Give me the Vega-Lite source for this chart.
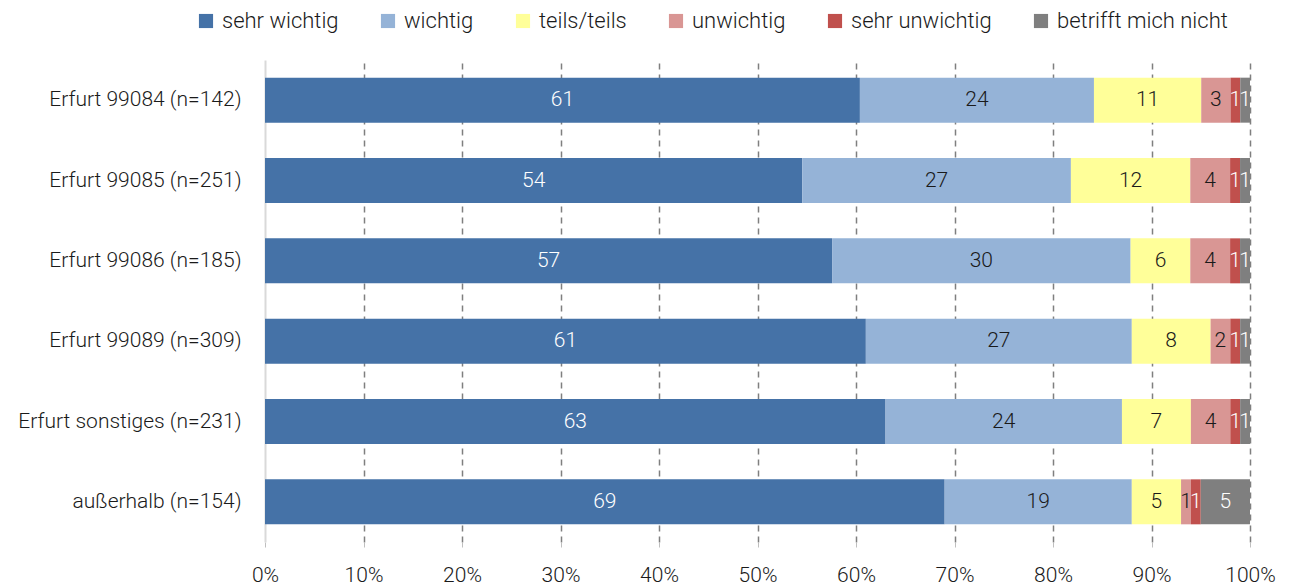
{
  "$schema": "https://vega.github.io/schema/vega-lite/v6.json",
  "autosize": {"type": "none"},
  "width": 985,
  "height": 482,
  "padding": {"left": 265, "top": 60, "right": 41, "bottom": 46},
  "background": "white",
  "config": {
    "font": "Roboto",
    "view": {"stroke": null},
    "axis": {"labelFontWeight": 300},
    "legend": {"labelFontWeight": 300}
  },
  "data": {
    "values": [
      {"loc": "Erfurt 99084 (n=142)", "cat": "sehr wichtig", "k": 1, "value": 61},
      {"loc": "Erfurt 99084 (n=142)", "cat": "wichtig", "k": 2, "value": 24},
      {"loc": "Erfurt 99084 (n=142)", "cat": "teils/teils", "k": 3, "value": 11},
      {"loc": "Erfurt 99084 (n=142)", "cat": "unwichtig", "k": 4, "value": 3},
      {"loc": "Erfurt 99084 (n=142)", "cat": "sehr unwichtig", "k": 5, "value": 1},
      {"loc": "Erfurt 99084 (n=142)", "cat": "betrifft mich nicht", "k": 6, "value": 1},
      {"loc": "Erfurt 99085 (n=251)", "cat": "sehr wichtig", "k": 1, "value": 54},
      {"loc": "Erfurt 99085 (n=251)", "cat": "wichtig", "k": 2, "value": 27},
      {"loc": "Erfurt 99085 (n=251)", "cat": "teils/teils", "k": 3, "value": 12},
      {"loc": "Erfurt 99085 (n=251)", "cat": "unwichtig", "k": 4, "value": 4},
      {"loc": "Erfurt 99085 (n=251)", "cat": "sehr unwichtig", "k": 5, "value": 1},
      {"loc": "Erfurt 99085 (n=251)", "cat": "betrifft mich nicht", "k": 6, "value": 1},
      {"loc": "Erfurt 99086 (n=185)", "cat": "sehr wichtig", "k": 1, "value": 57},
      {"loc": "Erfurt 99086 (n=185)", "cat": "wichtig", "k": 2, "value": 30},
      {"loc": "Erfurt 99086 (n=185)", "cat": "teils/teils", "k": 3, "value": 6},
      {"loc": "Erfurt 99086 (n=185)", "cat": "unwichtig", "k": 4, "value": 4},
      {"loc": "Erfurt 99086 (n=185)", "cat": "sehr unwichtig", "k": 5, "value": 1},
      {"loc": "Erfurt 99086 (n=185)", "cat": "betrifft mich nicht", "k": 6, "value": 1},
      {"loc": "Erfurt 99089 (n=309)", "cat": "sehr wichtig", "k": 1, "value": 61},
      {"loc": "Erfurt 99089 (n=309)", "cat": "wichtig", "k": 2, "value": 27},
      {"loc": "Erfurt 99089 (n=309)", "cat": "teils/teils", "k": 3, "value": 8},
      {"loc": "Erfurt 99089 (n=309)", "cat": "unwichtig", "k": 4, "value": 2},
      {"loc": "Erfurt 99089 (n=309)", "cat": "sehr unwichtig", "k": 5, "value": 1},
      {"loc": "Erfurt 99089 (n=309)", "cat": "betrifft mich nicht", "k": 6, "value": 1},
      {"loc": "Erfurt sonstiges (n=231)", "cat": "sehr wichtig", "k": 1, "value": 63},
      {"loc": "Erfurt sonstiges (n=231)", "cat": "wichtig", "k": 2, "value": 24},
      {"loc": "Erfurt sonstiges (n=231)", "cat": "teils/teils", "k": 3, "value": 7},
      {"loc": "Erfurt sonstiges (n=231)", "cat": "unwichtig", "k": 4, "value": 4},
      {"loc": "Erfurt sonstiges (n=231)", "cat": "sehr unwichtig", "k": 5, "value": 1},
      {"loc": "Erfurt sonstiges (n=231)", "cat": "betrifft mich nicht", "k": 6, "value": 1},
      {"loc": "außerhalb (n=154)", "cat": "sehr wichtig", "k": 1, "value": 69},
      {"loc": "außerhalb (n=154)", "cat": "wichtig", "k": 2, "value": 19},
      {"loc": "außerhalb (n=154)", "cat": "teils/teils", "k": 3, "value": 5},
      {"loc": "außerhalb (n=154)", "cat": "unwichtig", "k": 4, "value": 1},
      {"loc": "außerhalb (n=154)", "cat": "sehr unwichtig", "k": 5, "value": 1},
      {"loc": "außerhalb (n=154)", "cat": "betrifft mich nicht", "k": 6, "value": 5}
    ]
  },
  "transform": [
    {"stack": "value", "groupby": ["loc"], "sort": [{"field": "k", "order": "ascending"}], "offset": "normalize", "as": ["v0", "v1"]}
  ],
  "encoding": {
    "y": {
      "field": "loc", "type": "nominal", "sort": null, "title": null,
      "scale": {"paddingInner": 0.44, "paddingOuter": 0.22},
      "axis": {"labelFontSize": 21, "labelColor": "#1a1a1a", "labelPadding": 24, "ticks": false, "domainColor": "#d9d9d9", "domainWidth": 2, "labelLimit": 400}
    }
  },
  "layer": [
    {
      "mark": {"type": "bar"},
      "encoding": {
        "x": {
          "field": "v0", "type": "quantitative", "title": null,
          "scale": {"domain": [0, 1], "nice": false},
          "axis": {"format": "%", "values": [0, 0.1, 0.2, 0.3, 0.4, 0.5, 0.6, 0.7, 0.8, 0.9, 1], "labelFontSize": 21, "labelColor": "#1a1a1a", "labelPadding": 17, "labelOverlap": false, "domain": false, "tickColor": "#bfbfbf", "tickSize": 5, "grid": true, "gridDash": [6, 5], "gridWidth": 1.5, "gridColor": {"condition": {"test": "datum.value === 0", "value": "transparent"}, "value": "#7f7f7f"}, "labelFlush": false}
        },
        "x2": {"field": "v1"},
        "color": {
          "field": "cat", "type": "nominal", "title": null,
          "scale": {
            "domain": ["sehr wichtig", "wichtig", "teils/teils", "unwichtig", "sehr unwichtig", "betrifft mich nicht"],
            "range": ["#4572a7", "#95b3d7", "#ffff99", "#d99694", "#c0504d", "#7f7f7f"]
          },
          "legend": {"orient": "none", "direction": "horizontal", "legendX": -70, "legendY": -50, "symbolType": "square", "symbolSize": 200, "symbolStrokeWidth": 0, "labelFontSize": 22, "labelColor": "#1a1a1a", "labelOffset": 5, "columnPadding": 38, "labelLimit": 300}
        }
      }
    },
    {
      "transform": [
        {"fold": ["v0", "v1"], "as": ["end", "pos"]},
        {"aggregate": [{"op": "mean", "field": "pos", "as": "mid"}], "groupby": ["loc", "cat", "value"]}
      ],
      "mark": {"type": "text", "fontSize": 21, "fontWeight": 300, "align": "center", "baseline": "middle"},
      "encoding": {
        "x": {"field": "mid", "type": "quantitative", "title": null},
        "text": {"field": "value", "type": "quantitative"},
        "color": {"condition": {"test": "datum.cat === 'sehr wichtig' || datum.cat === 'sehr unwichtig' || datum.cat === 'betrifft mich nicht'", "value": "#ffffff"}, "value": "#1a1a1a"}
      }
    }
  ]
}
